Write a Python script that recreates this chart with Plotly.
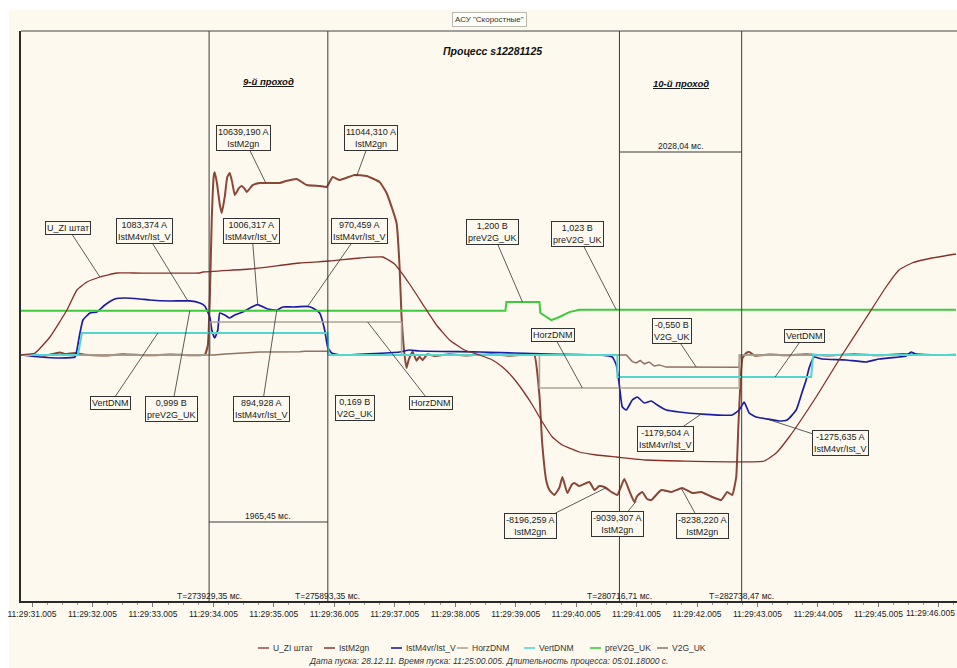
import plotly.graph_objects as go

# ---------------- data ----------------
tick_seconds = [271, 272, 273, 274, 275, 276, 277, 278, 279, 280, 281, 282, 283, 284, 285, 286]
tick_labels = ["11:29:31.005", "11:29:32.005", "11:29:33.005", "11:29:34.005",
               "11:29:35.005", "11:29:36.005", "11:29:37.005", "11:29:38.005",
               "11:29:39.005", "11:29:40.005", "11:29:41.005", "11:29:42.005",
               "11:29:43.005", "11:29:44.005", "11:29:45.005", "11:29:46.005"]

cursor_T_ms = [273929.35, 275893.35, 280716.71, 282738.47]
cursor_labels = ["T=273929,35 мс.", "T=275893,35 мс.", "T=280716,71 мс.", "T=282738,47 мс."]
interval_labels = ["1965,45 мс.", "2028,04 мс."]
pass_titles = ["9-й проход", "10-й проход"]

# U_ZI штат
t_uzi = [270.818, 271.05, 271.297, 271.578, 271.743, 271.909, 272.123, 272.404, 272.669, 273.776,
         273.825, 274.602, 275.428, 275.923, 276.419, 276.799, 276.997, 277.245, 277.493, 277.691,
         277.906, 278.154, 278.402, 278.616, 278.782, 278.947, 279.112, 279.277, 279.442, 279.607,
         279.773, 280.054, 280.335, 280.665, 281.16, 281.706, 283.11, 283.309, 283.524, 283.97,
         284.399, 284.796, 285.126, 285.341, 285.555, 285.886, 286.282]
v_uzi = [0.0, 0.2, 1.8, 4.5, 6.5, 7.3, 7.8, 8.2, 8.2, 8.2,
         8.3, 8.6, 9.2, 9.4, 9.7, 9.8, 9.1, 7.1, 4.8, 3.0,
         1.5, 0.5, 0.0, -0.5, -1.2, -2.2, -3.5, -5.0, -6.7, -8.2,
         -9.0, -9.7, -10.0, -10.2, -10.5, -10.6, -10.6, -9.8, -8.2, -4.2,
         0.0, 3.7, 6.8, 8.5, 9.2, 9.7, 10.1]

# IstM2gn
t_m2 = [270.818, 271.05, 271.215, 271.38, 271.463, 271.545, 271.71, 271.876, 272.2, 272.5,
        272.9, 273.3, 273.6, 273.858, 273.908, 273.941, 273.974, 274.007, 274.023, 274.06,
        274.106, 274.139, 274.189, 274.23, 274.271, 274.31, 274.354, 274.42, 274.469, 274.52,
        274.552, 274.65, 274.767, 275.097, 275.2, 275.378, 275.543, 275.758, 275.874, 275.973,
        276.088, 276.336, 276.534, 276.749, 276.865, 277.03, 277.08, 277.113, 277.162, 277.195,
        277.23, 277.295, 277.36, 277.41, 277.46, 277.54, 277.658, 277.9, 278.2, 278.6,
        278.9, 279.2, 279.31, 279.393, 279.44, 279.508, 279.558, 279.64, 279.723, 279.773,
        279.855, 279.93, 279.971, 280.054, 280.219, 280.302, 280.384, 280.467, 280.599, 280.682,
        280.797, 280.88, 280.962, 281.012, 281.094, 281.175, 281.243, 281.408, 281.574, 281.756,
        281.921, 282.07, 282.252, 282.401, 282.499, 282.582, 282.648, 282.681, 282.714, 282.75,
        282.813, 282.863, 282.95, 283.2, 283.5, 283.8, 284.2, 284.6, 285.0, 285.4,
        285.8, 286.282]
v_m2 = [0, 30, -40, 100, 160, 60, 120, 20, -30, 40,
        -20, 30, -10, 20, 600, 3500, 8500, 11100, 11300, 10600,
        9300, 8776, 9800, 11000, 11248, 10700, 9888, 10300, 10440, 10250,
        10073, 10500, 10630, 10630, 10750, 10877, 10506, 10444, 10382, 11000,
        10815, 11124, 11062, 10691, 10012, 8158, 5438, 2348, 0, -803,
        -300, 200, -350, -100, -310, 50, -60, 40, -30, 50,
        -40, 30, 0, -2500, -5500, -7800, -8343, -8652, -8200, -7540,
        -8528, -8000, -7910, -8100, -7849, -8343, -8100, -8158, -8500, -8652,
        -7663, -8400, -9085, -8700, -8467, -8900, -8961, -8343, -8467, -8219,
        -8528, -8467, -8776, -8961, -8467, -8652, -7540, -4635, -2000, -200,
        124, 185, -40, 30, -20, 40, -30, 50, -20, 60,
        0, 20]

# IstM4vr/Ist_V
t_m4 = [270.818, 271.132, 271.463, 271.71, 271.743, 271.793, 271.843, 271.958, 272.074, 272.206,
        272.371, 272.536, 272.784, 272.949, 273.28, 273.61, 273.776, 273.858, 273.891, 273.941,
        273.974, 274.023, 274.073, 274.106, 274.189, 274.271, 274.354, 274.486, 274.635, 274.734,
        274.899, 275.048, 275.147, 275.312, 275.559, 275.643, 275.758, 275.841, 275.89, 275.956,
        276.088, 277.08, 277.245, 277.41, 278.402, 279.558, 280.384, 280.599, 280.665, 280.715,
        280.764, 280.83, 280.929, 281.012, 281.127, 281.243, 281.342, 281.491, 281.706, 282.07,
        282.582, 282.697, 282.78, 282.863, 282.978, 283.143, 283.358, 283.491, 283.64, 283.739,
        283.805, 283.854, 283.937, 284.069, 284.465, 284.796, 285.01, 285.341, 285.456, 285.539,
        285.621, 286.282]
v_m4 = [0, -40, -60, -40, 100, 440, 700, 840, 860, 1000,
        1120, 1140, 1120, 1100, 1080, 1083, 1040, 980, 900, 760,
        500, 340, 500, 840, 800, 740, 800, 860, 960, 1006,
        920, 895, 960, 960, 970, 940, 840, 500, 160, 40,
        0, 60, 100, 80, 60, 20, 0, -40, -200, -600,
        -1040, -1100, -900, -840, -960, -920, -1000, -1100, -1140, -1180,
        -1200, -1100, -940, -1160, -1240, -1276, -1320, -1300, -1100, -740,
        -500, -260, -40, -80, -100, -140, -80, -40, -20, 60,
        20, 0]

# HorzDNM
t_horz = [270.818, 273.941, 273.941, 277.113, 277.113, 279.393, 279.393, 282.697, 282.697, 286.282]
v_horz = [0, 0, 1, 1, 0, 0, -1, -1, 0, 0]

# VertDNM
t_vert = [270.818, 271.76, 271.826, 275.89, 275.907, 280.682, 280.682, 283.887, 283.92, 286.282]
v_vert = [0, 0, 1, 1, 0, 0, -1, -1, 0, 0]

# preV2G_UK
t_pre = [270.818, 278.83, 278.848, 279.393, 279.409, 279.591, 279.723, 279.888, 280.054, 286.282]
v_pre = [0.999, 0.999, 1.2, 1.2, 0.95, 0.79, 0.86, 0.97, 1.023, 1.023]

# V2G_UK
t_v2g = [270.818, 274.007, 274.2, 274.436, 274.767, 275.428, 275.51, 275.874, 275.89, 275.907,
         280.83, 280.93, 280.995, 281.06, 281.127, 281.21, 281.29, 281.375, 281.49, 282.697,
         282.714, 286.282]
v_v2g = [0, 0, 0.05, 0.1, 0.14, 0.15, 0.169, 0.17, 0.17, 0,
         0, -0.3, -0.36, -0.25, -0.4, -0.32, -0.5, -0.45, -0.55, -0.56,
         0, 0]

# value call-outs: text, series, time (s), value
callouts = [
    ("U_ZI штат", "U_ZI штат", 272.123, 7.8),
    ("1083,374 A<br>IstM4vr/Ist_V", "IstM4vr/Ist_V", 273.577, 1083.374),
    ("1006,317 A<br>IstM4vr/Ist_V", "IstM4vr/Ist_V", 274.734, 1006.317),
    ("970,459 A<br>IstM4vr/Ist_V", "IstM4vr/Ist_V", 275.559, 970.459),
    ("10639,190 A<br>IstM2gn", "IstM2gn", 274.866, 10639.190),
    ("11044,310 A<br>IstM2gn", "IstM2gn", 276.369, 11044.310),
    ("1,200 B<br>preV2G_UK", "preV2G_UK", 279.112, 1.200),
    ("1,023 B<br>preV2G_UK", "preV2G_UK", 280.665, 1.023),
    ("VertDNM", "VertDNM", 273.082, 1),
    ("0,999 B<br>preV2G_UK", "preV2G_UK", 273.61, 0.999),
    ("894,928 A<br>IstM4vr/Ist_V", "IstM4vr/Ist_V", 275.048, 894.928),
    ("0,169 B<br>V2G_UK", "V2G_UK", 275.51, 0.169),
    ("HorzDNM", "HorzDNM", 276.551, 1),
    ("HorzDNM", "HorzDNM", 280.103, -1),
    ("-0,550 B<br>V2G_UK", "V2G_UK", 281.987, -0.550),
    ("VertDNM", "VertDNM", 283.292, -1),
    ("-1179,504 A<br>IstM4vr/Ist_V", "IstM4vr/Ist_V", 282.07, -1179.504),
    ("-1275,635 A<br>IstM4vr/Ist_V", "IstM4vr/Ist_V", 283.143, -1275.635),
    ("-8196,259 A<br>IstM2gn", "IstM2gn", 280.50, -8196.259),
    ("-9039,307 A<br>IstM2gn", "IstM2gn", 280.995, -9039.307),
    ("-8238,220 A<br>IstM2gn", "IstM2gn", 281.74, -8238.220),
]
# offsets of the call-out boxes from their points (px)
callout_offsets = [(-32, -49), (-43, -70), (-6, -74), (52, -75), (-22, -45), (14, -38),
                   (-30, -70), (-39, -76), (-47, 70), (-18, 98), (-15, 99), (50, 57),
                   (63, 81), (-29, -53), (-24, -36), (29, -41), (-36, 25), (74, 24),
                   (-76, 38), (-19, 23), (21, 38)]

# ---------------- styling / layout ----------------
W, H = 957, 668
ML, MR, MT, MB = 21, 0, 31, 67
PW, PH = W - ML - MR, H - MT - MB
CREAM = "#fdf9ee"
FONT = "Liberation Sans"
ZERO_PX = 355  # pixel row of zero for all channels


def px_x(p):
    return (p - ML) / PW


def px_y(p):
    return (H - MB - p) / PH


# series: name, t, v, color, width, axis, units per pixel, shape
series = [
    ("HorzDNM", t_horz, v_horz, "#aaa696", 1.6, "y5", 1 / 33, "linear"),
    ("V2G_UK", t_v2g, v_v2g, "#8f7262", 1.5, "y4", 1 / 22, "linear"),
    ("VertDNM", t_vert, v_vert, "#52d6cf", 2.0, "y6", 1 / 22, "linear"),
    ("preV2G_UK", t_pre, v_pre, "#3dcb3d", 2.0, "y3", 1 / 44.2, "linear"),
    ("IstM4vr/Ist_V", t_m4, v_m4, "#1c1ca3", 1.7, "y2", 20.0, "spline"),
    ("U_ZI штат", t_uzi, v_uzi, "#86302a", 1.3, "y7", 0.1, "spline"),
    ("IstM2gn", t_m2, v_m2, "#8a4637", 2.0, "y", 61.8, "spline"),
]
legend_order = ["U_ZI штат", "IstM2gn", "IstM4vr/Ist_V", "HorzDNM", "VertDNM", "preV2G_UK", "V2G_UK"]
legend_x_px = [258, 324, 391, 457, 524, 590, 657]

fig = go.Figure()
axis_of = {}
for name, t, v, color, width, ax, k, shape in series:
    axis_of[name] = ax
    sc = dict(shape=shape)
    if shape == "spline":
        sc["smoothing"] = 0.4
    fig.add_trace(go.Scatter(x=t, y=v, mode="lines", name=name, yaxis=ax, showlegend=False,
                             line=dict(color=color, width=width, **sc), hoverinfo="skip"))

layout_axes = {}
for name, t, v, color, width, ax, k, shape in series:
    rng = [-(H - MB - ZERO_PX) * k, (ZERO_PX - MT) * k]
    key = "yaxis" if ax == "y" else "yaxis" + ax[1:]
    d = dict(range=rng, showgrid=False, zeroline=False, showticklabels=False, ticks="",
             fixedrange=True, automargin=False)
    if ax == "y":
        d.update(showline=True, linewidth=2, linecolor="#2a2a2a")
    else:
        d.update(overlaying="y", visible=False)
    layout_axes[key] = d

# last tick label sits at the right edge: it is drawn right-aligned so it stays readable
axis_ticktext = tick_labels[:-1] + [""]

fig.update_layout(
    width=W, height=H,
    margin=dict(l=ML, r=MR, t=MT, b=MB, autoexpand=False),
    paper_bgcolor=CREAM, plot_bgcolor=CREAM,
    showlegend=False,
    font=dict(family=FONT, size=9, color="#222"),
    xaxis=dict(range=[270.818, 286.30], tickmode="array", tickvals=tick_seconds,
               ticktext=axis_ticktext, ticks="outside", ticklen=4, tickcolor="#777",
               tickfont=dict(size=8.5, color="#222"), ticklabeloverflow="allow",
               automargin=False,
               showline=True, linewidth=2, linecolor="#2a2a2a", showgrid=False, zeroline=False,
               minor=dict(tickmode="linear", tick0=271, dtick=0.25, ticks="outside",
                          ticklen=2, tickcolor="#999"),
               fixedrange=True),
    **layout_axes,
)

shapes = []
# white page strips at top and left
shapes.append(dict(type="rect", xref="paper", yref="paper", x0=px_x(0), x1=px_x(9),
                   y0=px_y(H), y1=px_y(0), fillcolor="white", line=dict(width=0), layer="below"))
shapes.append(dict(type="rect", xref="paper", yref="paper", x0=px_x(0), x1=px_x(W),
                   y0=px_y(10), y1=px_y(0), fillcolor="white", line=dict(width=0), layer="below"))
# top border
shapes.append(dict(type="line", xref="paper", yref="paper", x0=0, x1=1, y0=1, y1=1,
                   line=dict(color="#444", width=1)))
# cursors
cursor_s = [c / 1000 for c in cursor_T_ms]
for c in cursor_s:
    shapes.append(dict(type="line", xref="x", yref="paper", x0=c, x1=c, y0=0, y1=1,
                       line=dict(color="#3a3a3a", width=1)))
# interval bars
interval_y_px = [522, 152]
for i, yp in enumerate(interval_y_px):
    a, b = cursor_s[2 * i], cursor_s[2 * i + 1]
    shapes.append(dict(type="line", xref="x", yref="paper", x0=a, x1=b, y0=px_y(yp), y1=px_y(yp),
                       line=dict(color="#3a3a3a", width=1)))

annotations = []
annotations.append(dict(x=1, y=px_y(613), xref="paper", yref="paper", text=tick_labels[-1],
                        showarrow=False, xanchor="right", yanchor="middle",
                        font=dict(size=8.5, color="#222")))
for i, yp in enumerate(interval_y_px):
    a, b = cursor_s[2 * i], cursor_s[2 * i + 1]
    annotations.append(dict(x=(a + b) / 2, y=px_y(yp - 6), xref="x", yref="paper",
                            text=interval_labels[i], showarrow=False, yanchor="middle",
                            font=dict(size=8.5, color="#222")))
    annotations.append(dict(x=(a + b) / 2, y=px_y(82 if i == 0 else 84), xref="x", yref="paper",
                            text=pass_titles[i], showarrow=False, yanchor="middle",
                            font=dict(size=9.5, color="#111", weight="bold", style="italic",
                                      lineposition="under")))
for c, lab in zip(cursor_s, cursor_labels):
    annotations.append(dict(x=c, y=px_y(596), xref="x", yref="paper", text=lab,
                            showarrow=False, yanchor="middle", font=dict(size=8.5, color="#222")))

annotations.append(dict(x=px_x(489), y=px_y(20), xref="paper", yref="paper",
                        text='АСУ "Скоростные"', showarrow=False, yanchor="middle",
                        font=dict(size=8, color="#333"), bgcolor="#fffffa",
                        bordercolor="#b8b8b0", borderwidth=1, borderpad=2))
annotations.append(dict(x=px_x(492), y=px_y(51), xref="paper", yref="paper",
                        text="Процесс s12281125", showarrow=False, yanchor="middle",
                        font=dict(size=10.5, color="#111", weight="bold", style="italic")))
annotations.append(dict(x=px_x(488), y=px_y(661), xref="paper", yref="paper",
                        text="Дата пуска: 28.12.11. Время пуска: 11:25:00.005. "
                             "Длительность процесса: 05:01.18000 с.",
                        showarrow=False, yanchor="middle",
                        font=dict(size=8.5, color="#333", style="italic")))

for (text, sname, t, v), (ox, oy) in zip(callouts, callout_offsets):
    annotations.append(dict(x=t, y=v, xref="x", yref=axis_of[sname], text=text,
                            showarrow=True, arrowhead=0, arrowwidth=0.8, arrowcolor="#333",
                            ax=ox, ay=oy, standoff=0,
                            font=dict(size=9, color="#222"), bgcolor=CREAM,
                            bordercolor="#333", borderwidth=1, borderpad=1))

# manual legend
style_of = {s[0]: (s[3], s[4]) for s in series}
for name, xp in zip(legend_order, legend_x_px):
    col, wd = style_of[name]
    shapes.append(dict(type="line", xref="paper", yref="paper", x0=px_x(xp), x1=px_x(xp + 11),
                       y0=px_y(648), y1=px_y(648), line=dict(color=col, width=min(wd, 1.6))))
    annotations.append(dict(x=px_x(xp + 13), y=px_y(648), xref="paper", yref="paper",
                            text=name, showarrow=False, xanchor="left", yanchor="middle",
                            font=dict(size=8.5, color="#333")))

fig.update_layout(shapes=shapes, annotations=annotations)
fig.write_html("out.html")
